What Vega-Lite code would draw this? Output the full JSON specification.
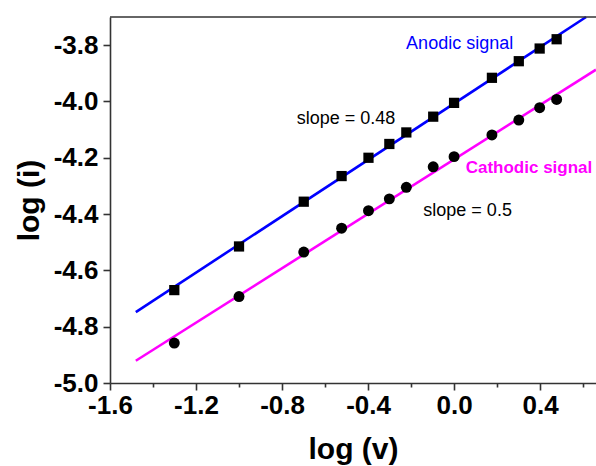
{
  "$schema": "https://vega.github.io/schema/vega-lite/v6.json",
  "width": 486,
  "height": 366,
  "autosize": {"type": "none"},
  "padding": {"left": 110, "top": 17, "right": 0, "bottom": 83},
  "background": "white",
  "config": {
    "view": {"stroke": null},
    "font": "Liberation Sans"
  },
  "datasets": {
    "points": [
      {"logv": -1.301, "logi": -4.670, "signal": "Anodic"},
      {"logv": -1.000, "logi": -4.515, "signal": "Anodic"},
      {"logv": -0.699, "logi": -4.356, "signal": "Anodic"},
      {"logv": -0.523, "logi": -4.265, "signal": "Anodic"},
      {"logv": -0.398, "logi": -4.200, "signal": "Anodic"},
      {"logv": -0.301, "logi": -4.151, "signal": "Anodic"},
      {"logv": -0.222, "logi": -4.110, "signal": "Anodic"},
      {"logv": -0.097, "logi": -4.054, "signal": "Anodic"},
      {"logv": 0.000, "logi": -4.005, "signal": "Anodic"},
      {"logv": 0.176, "logi": -3.916, "signal": "Anodic"},
      {"logv": 0.301, "logi": -3.857, "signal": "Anodic"},
      {"logv": 0.398, "logi": -3.812, "signal": "Anodic"},
      {"logv": 0.477, "logi": -3.779, "signal": "Anodic"},
      {"logv": -1.301, "logi": -4.858, "signal": "Cathodic"},
      {"logv": -1.000, "logi": -4.693, "signal": "Cathodic"},
      {"logv": -0.699, "logi": -4.535, "signal": "Cathodic"},
      {"logv": -0.523, "logi": -4.450, "signal": "Cathodic"},
      {"logv": -0.398, "logi": -4.388, "signal": "Cathodic"},
      {"logv": -0.301, "logi": -4.346, "signal": "Cathodic"},
      {"logv": -0.222, "logi": -4.305, "signal": "Cathodic"},
      {"logv": -0.097, "logi": -4.232, "signal": "Cathodic"},
      {"logv": 0.000, "logi": -4.196, "signal": "Cathodic"},
      {"logv": 0.176, "logi": -4.119, "signal": "Cathodic"},
      {"logv": 0.301, "logi": -4.066, "signal": "Cathodic"},
      {"logv": 0.398, "logi": -4.022, "signal": "Cathodic"},
      {"logv": 0.477, "logi": -3.993, "signal": "Cathodic"}
    ],
    "fits": [
      {"logv": -1.48, "logi": -4.748, "signal": "Anodic"},
      {"logv": 0.614, "logi": -3.700, "signal": "Anodic"},
      {"logv": -1.48, "logi": -4.921, "signal": "Cathodic"},
      {"logv": 0.66, "logi": -3.887, "signal": "Cathodic"}
    ]
  },
  "layer": [
    {
      "data": {"name": "fits"},
      "mark": {"type": "line", "strokeWidth": 2.6},
      "encoding": {
        "x": {
          "field": "logv", "type": "quantitative",
          "scale": {"domain": [-1.6, 0.66], "nice": false, "zero": false},
          "axis": {
            "orient": "bottom",
            "title": "log (v)",
            "titleFont": "Liberation Sans",
            "titleFontSize": 30,
            "titleFontWeight": "bold",
            "titleColor": "black",
            "titlePadding": 16,
            "values": [-1.6, -1.4, -1.2, -1.0, -0.8, -0.6, -0.4, -0.2, 0, 0.2, 0.4, 0.6],
            "labelExpr": "round(datum.value*5) % 2 == 0 ? (datum.value < -0.001 ? '-' : '') + format(abs(datum.value), '.1f') : ''",
            "labelFont": "Liberation Sans",
            "labelFontSize": 26,
            "labelFontWeight": "bold",
            "labelColor": "black",
            "labelPadding": 2,
            "labelOverlap": false,
            "labelFlush": false,
            "grid": false,
            "domainColor": "#333333",
            "domainWidth": 1.6,
            "tickColor": "#333333",
            "tickWidth": 1.6,
            "tickSize": {"condition": {"test": "round(datum.value*5) % 2 == 0", "value": 7}, "value": 4}
          }
        },
        "y": {
          "field": "logi", "type": "quantitative",
          "scale": {"domain": [-5.0, -3.7], "nice": false, "zero": false},
          "axis": {
            "orient": "left",
            "title": "log (i)",
            "titleFont": "Liberation Sans",
            "titleFontSize": 30,
            "titleFontWeight": "bold",
            "titleColor": "black",
            "titlePadding": 9,
            "values": [-5.0, -4.9, -4.8, -4.7, -4.6, -4.5, -4.4, -4.3, -4.2, -4.1, -4.0, -3.9, -3.8],
            "labelExpr": "round(datum.value*10) % 2 == 0 ? (datum.value < 0 ? '-' : '') + format(abs(datum.value), '.1f') : ''",
            "labelFont": "Liberation Sans",
            "labelFontSize": 26,
            "labelFontWeight": "bold",
            "labelColor": "black",
            "labelPadding": 5,
            "labelOverlap": false,
            "labelFlush": false,
            "grid": false,
            "domainColor": "#333333",
            "domainWidth": 1.6,
            "tickColor": "#333333",
            "tickWidth": 1.6,
            "tickSize": {"condition": {"test": "round(datum.value*10) % 2 == 0", "value": 7}, "value": 4}
          }
        },
        "color": {
          "field": "signal", "type": "nominal",
          "scale": {"domain": ["Anodic", "Cathodic"], "range": ["#0000ff", "#ff00ff"]},
          "legend": null
        }
      }
    },
    {
      "data": {"name": "points"},
      "transform": [{"filter": "datum.signal == 'Anodic'"}],
      "mark": {"type": "point", "shape": "square", "filled": true, "color": "black", "opacity": 1, "size": 105},
      "encoding": {
        "x": {"field": "logv", "type": "quantitative"},
        "y": {"field": "logi", "type": "quantitative"}
      }
    },
    {
      "data": {"name": "points"},
      "transform": [{"filter": "datum.signal == 'Cathodic'"}],
      "mark": {"type": "point", "shape": "circle", "filled": true, "color": "black", "opacity": 1, "size": 120},
      "encoding": {
        "x": {"field": "logv", "type": "quantitative"},
        "y": {"field": "logi", "type": "quantitative"}
      }
    },
    {
      "data": {"values": [{"logv": -1.6, "logi": -3.7}, {"logv": 0.66, "logi": -3.7}]},
      "mark": {"type": "rule", "color": "#333333", "strokeWidth": 1.6},
      "encoding": {
        "x": {"field": "logv", "type": "quantitative", "aggregate": "min"},
        "x2": {"field": "logv", "aggregate": "max"},
        "y": {"field": "logi", "type": "quantitative", "aggregate": "max"}
      }
    },
    {
      "data": {"values": [{"logv": -0.223, "logi": -3.796, "label": "Anodic signal"}]},
      "mark": {"type": "text", "align": "left", "baseline": "middle", "fontSize": 18, "color": "#0000ff", "font": "Liberation Sans"},
      "encoding": {
        "x": {"field": "logv", "type": "quantitative"},
        "y": {"field": "logi", "type": "quantitative"},
        "text": {"field": "label"}
      }
    },
    {
      "data": {"values": [
        {"logv": -0.732, "logi": -4.062, "label": "slope = 0.48"},
        {"logv": -0.143, "logi": -4.388, "label": "slope = 0.5"}
      ]},
      "mark": {"type": "text", "align": "left", "baseline": "middle", "fontSize": 18, "color": "black", "font": "Liberation Sans"},
      "encoding": {
        "x": {"field": "logv", "type": "quantitative"},
        "y": {"field": "logi", "type": "quantitative"},
        "text": {"field": "label"}
      }
    },
    {
      "data": {"values": [{"logv": 0.054, "logi": -4.237, "label": "Cathodic signal"}]},
      "mark": {"type": "text", "align": "left", "baseline": "middle", "fontSize": 17, "fontWeight": "bold", "color": "#ff00ff", "font": "Liberation Sans"},
      "encoding": {
        "x": {"field": "logv", "type": "quantitative"},
        "y": {"field": "logi", "type": "quantitative"},
        "text": {"field": "label"}
      }
    }
  ]
}
